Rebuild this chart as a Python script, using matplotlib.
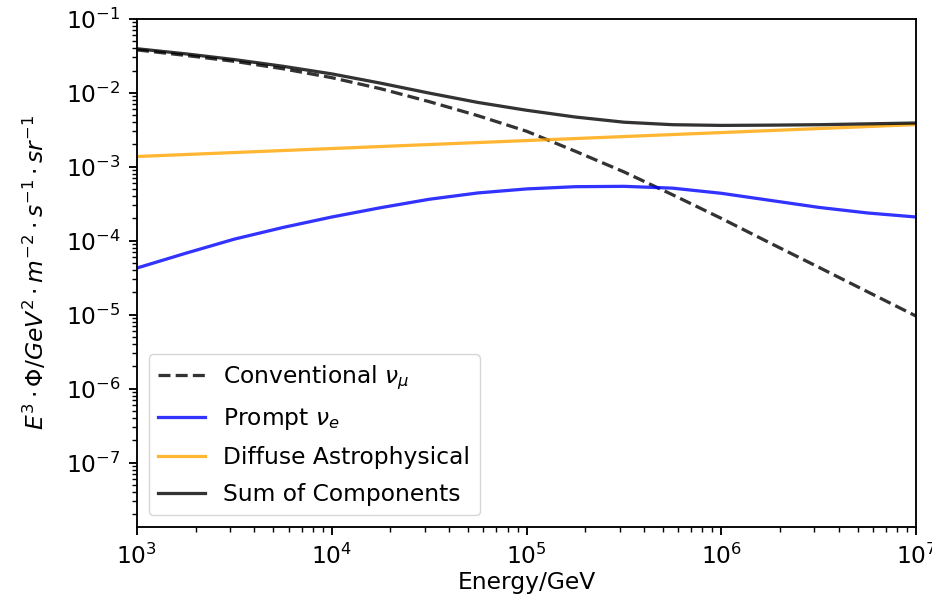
import numpy as np
import matplotlib
matplotlib.use("Agg")
import matplotlib.pyplot as plt

# log10(Energy/GeV) sample points
log_energy = [3.0, 3.25, 3.5, 3.75, 4.0, 4.25, 4.5, 4.75, 5.0, 5.25, 5.5, 5.75, 6.0, 6.25, 6.5, 6.75, 7.0]

conventional = [0.0380, 0.0320, 0.0266, 0.0211, 0.0160, 0.01135, 0.00759, 0.0049, 0.00302, 0.00162,
                0.000851, 0.000417, 0.000200, 9.3e-5, 4.37e-5, 2.04e-5, 9.55e-6]
prompt = [4.27e-5, 6.76e-5, 1.05e-4, 1.51e-4, 2.09e-4, 2.79e-4, 3.63e-4, 4.42e-4, 5.01e-4, 5.37e-4,
          5.43e-4, 5.13e-4, 4.37e-4, 3.51e-4, 2.82e-4, 2.37e-4, 2.09e-4]
astro = [1.375e-3, 1.462e-3, 1.556e-3, 1.656e-3, 1.762e-3, 1.875e-3, 1.995e-3, 2.123e-3, 2.259e-3,
         2.404e-3, 2.559e-3, 2.723e-3, 2.897e-3, 3.083e-3, 3.281e-3, 3.491e-3, 3.715e-3]
total = [0.0394, 0.0336, 0.0281, 0.0228, 0.0180, 0.0135, 0.0099, 0.0074, 0.0058, 0.0047,
         0.0040, 0.0037, 0.00362, 0.00365, 0.0037, 0.0038, 0.0039]

s = 1.68
plt.rcParams.update({
    "font.size": 10 * s,
    "axes.linewidth": 0.8 * s,
    "xtick.major.size": 3.5 * s, "ytick.major.size": 3.5 * s,
    "xtick.minor.size": 2 * s, "ytick.minor.size": 2 * s,
    "xtick.major.width": 0.8 * s, "ytick.major.width": 0.8 * s,
    "xtick.minor.width": 0.6 * s, "ytick.minor.width": 0.6 * s,
    "xtick.major.pad": 3.5 * s, "ytick.major.pad": 3.5 * s,
})

energy = 10 ** np.array(log_energy)

fig = plt.figure(figsize=(9.32, 6.07), dpi=100)
ax = fig.add_axes([0.147, 0.132, 0.836, 0.837])
lw = 1.5 * 1.555
ax.plot(energy, conventional, color="black", ls="--", lw=lw, alpha=0.8, label=r"Conventional $\nu_\mu$")
ax.plot(energy, prompt, color="blue", lw=lw, alpha=0.8, label=r"Prompt $\nu_e$")
ax.plot(energy, astro, color="orange", lw=lw, alpha=0.8, label="Diffuse Astrophysical")
ax.plot(energy, total, color="black", lw=lw, alpha=0.8, label="Sum of Components")
ax.set_xscale("log")
ax.set_yscale("log")
ax.set_xlim(1e3, 1e7)
ax.set_ylim(10 ** -7.87, 1e-1)
ax.set_xlabel("Energy/GeV", labelpad=2)
ax.set_ylabel(r"$E^3\cdot\Phi/GeV^2\cdot m^{-2}\cdot s^{-1}\cdot sr^{-1}$", labelpad=12)
ax.legend(loc="lower left", labelspacing=0.6)
fig.savefig("out.png", dpi=100)
